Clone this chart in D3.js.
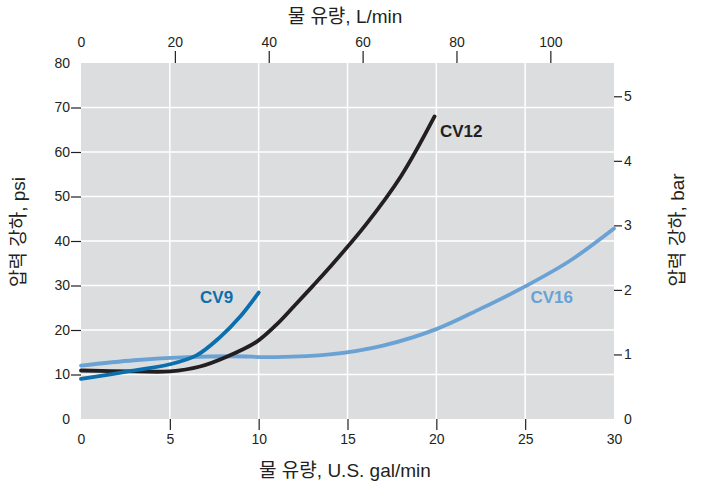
<!DOCTYPE html>
<html><head><meta charset="utf-8">
<script src="https://cdn.jsdelivr.net/npm/d3@7"></script>
<style>
body{margin:0;background:#fff;}
text{font-family:"Liberation Sans",Arial,"Noto Sans CJK KR",sans-serif;fill:#231f20;}
</style></head>
<body><svg id="c" width="701" height="488"></svg>
<script>
const xTicksGal = [0,5,10,15,20,25,30];
const xTicksLmin = [0,20,40,60,80,100];
const yTicksPsi = [0,10,20,30,40,50,60,70,80];
const yTicksBar = [0,1,2,3,4,5];
const cv9 = [[0,9.0],[2.5,10.6],[5,12.3],[6.5,14.3],[7.8,18.3],[9,23.2],[10,28.4]];
const cv12 = [[0,10.9],[3,10.7],[5,10.7],[6.7,11.8],[8.2,14],[9.9,17.4],[11,21.2],[12,25.4],[13,29.7],[14,34.1],[16,43.5],[18,54.5],[19.9,68]];
const cv16 = [[0,12.0],[3,13.2],[6,13.9],[8.5,14.1],[11,13.9],[14,14.5],[17,16.5],[20,20.2],[22.5,24.8],[25,29.8],[27.5,35.5],[30,42.8]];
const seriesNames = ["CV9","CV12","CV16"];
const seriesColors = ["#0b6fad","#231f20","#6ba2d4"];
const labelPos = [[6.7,26],[20.2,63.4],[25.3,26]];

const svg = d3.select("#c");
const L=81,R=614,T=63,B=419;
const x = d3.scaleLinear().domain([0,30]).range([L,R]);
const y = d3.scaleLinear().domain([0,80]).range([B,T]);
const GAL2L = 3.78541, PSI_PER_BAR = 14.5038;
const xL = d3.scaleLinear().domain([0,30*GAL2L]).range([L,R]);
const yB = d3.scaleLinear().domain([0,80/PSI_PER_BAR]).range([B,T]);

svg.append("rect").attr("x",L).attr("y",T).attr("width",R-L).attr("height",B-T).attr("fill","#dcdddf");
svg.append("g").selectAll("line").data(xTicksGal.slice(1,-1)).join("line")
 .attr("x1",d=>x(d)).attr("x2",d=>x(d)).attr("y1",T).attr("y2",B).attr("stroke","#fff").attr("stroke-width",1.5);
svg.append("g").selectAll("line").data(yTicksPsi.slice(1,-1)).join("line")
 .attr("x1",L).attr("x2",R).attr("y1",d=>y(d)).attr("y2",d=>y(d)).attr("stroke","#fff").attr("stroke-width",1.5);

function styleAxis(g){g.select(".domain").remove();g.selectAll("line").attr("stroke","#231f20").attr("stroke-width",1.2);g.selectAll("text").attr("font-size",14).attr("fill","#231f20");}

const gb = svg.append("g").attr("transform",`translate(0,${B})`)
 .call(d3.axisBottom(x).tickValues(xTicksGal).tickSize(11).tickPadding(4).tickFormat(d3.format("d")));
styleAxis(gb); gb.selectAll(".tick").filter(d=>d===0||d===30).select("line").remove();
const gt = svg.append("g").attr("transform",`translate(0,${T})`)
 .call(d3.axisTop(xL).tickValues(xTicksLmin).tickSize(12).tickPadding(4).tickFormat(d3.format("d")));
styleAxis(gt); gt.selectAll(".tick").filter(d=>d===0).select("line").remove();
const gl = svg.append("g").attr("transform",`translate(${L},0)`)
 .call(d3.axisLeft(y).tickValues(yTicksPsi).tickSize(10).tickPadding(1).tickFormat(d3.format("d")));
styleAxis(gl); gl.selectAll(".tick").filter(d=>d===0||d===80).select("line").remove();
gl.selectAll(".tick").filter(d=>d===0||d===80).select("text").attr("x",-11);
const gr = svg.append("g").attr("transform",`translate(${R},0)`)
 .call(d3.axisRight(yB).tickValues(yTicksBar).tickSize(8).tickPadding(2).tickFormat(d3.format("d")));
styleAxis(gr); gr.selectAll(".tick").filter(d=>d===0).select("line").remove();
gr.selectAll(".tick").filter(d=>d===0).select("text").attr("x",10);

svg.append("text").attr("x",345).attr("y",23).attr("text-anchor","middle").attr("font-size",19).text("물 유량, L/min");
svg.append("text").attr("x",345).attr("y",477).attr("text-anchor","middle").attr("font-size",19).text("물 유량, U.S. gal/min");
svg.append("text").attr("transform","translate(25,232) rotate(-90)").attr("text-anchor","middle").attr("font-size",19).text("압력 강하, psi");
svg.append("text").attr("transform","translate(684,230) rotate(-90)").attr("text-anchor","middle").attr("font-size",19).text("압력 강하, bar");

const line = d3.line().x(d=>x(d[0])).y(d=>y(d[1])).curve(d3.curveCatmullRom.alpha(0.5));
[2,1,0].forEach(i=>{
 const data=[cv9,cv12,cv16][i];
 svg.append("path").attr("d",line(data)).attr("fill","none").attr("stroke",seriesColors[i]).attr("stroke-width",3.8).attr("stroke-linecap","round");
});
seriesNames.forEach((n,i)=>{
 svg.append("text").attr("x",x(labelPos[i][0])).attr("y",y(labelPos[i][1])).attr("font-size",17).attr("font-weight","bold").style("fill",seriesColors[i]).text(n);
});
</script></body></html>
